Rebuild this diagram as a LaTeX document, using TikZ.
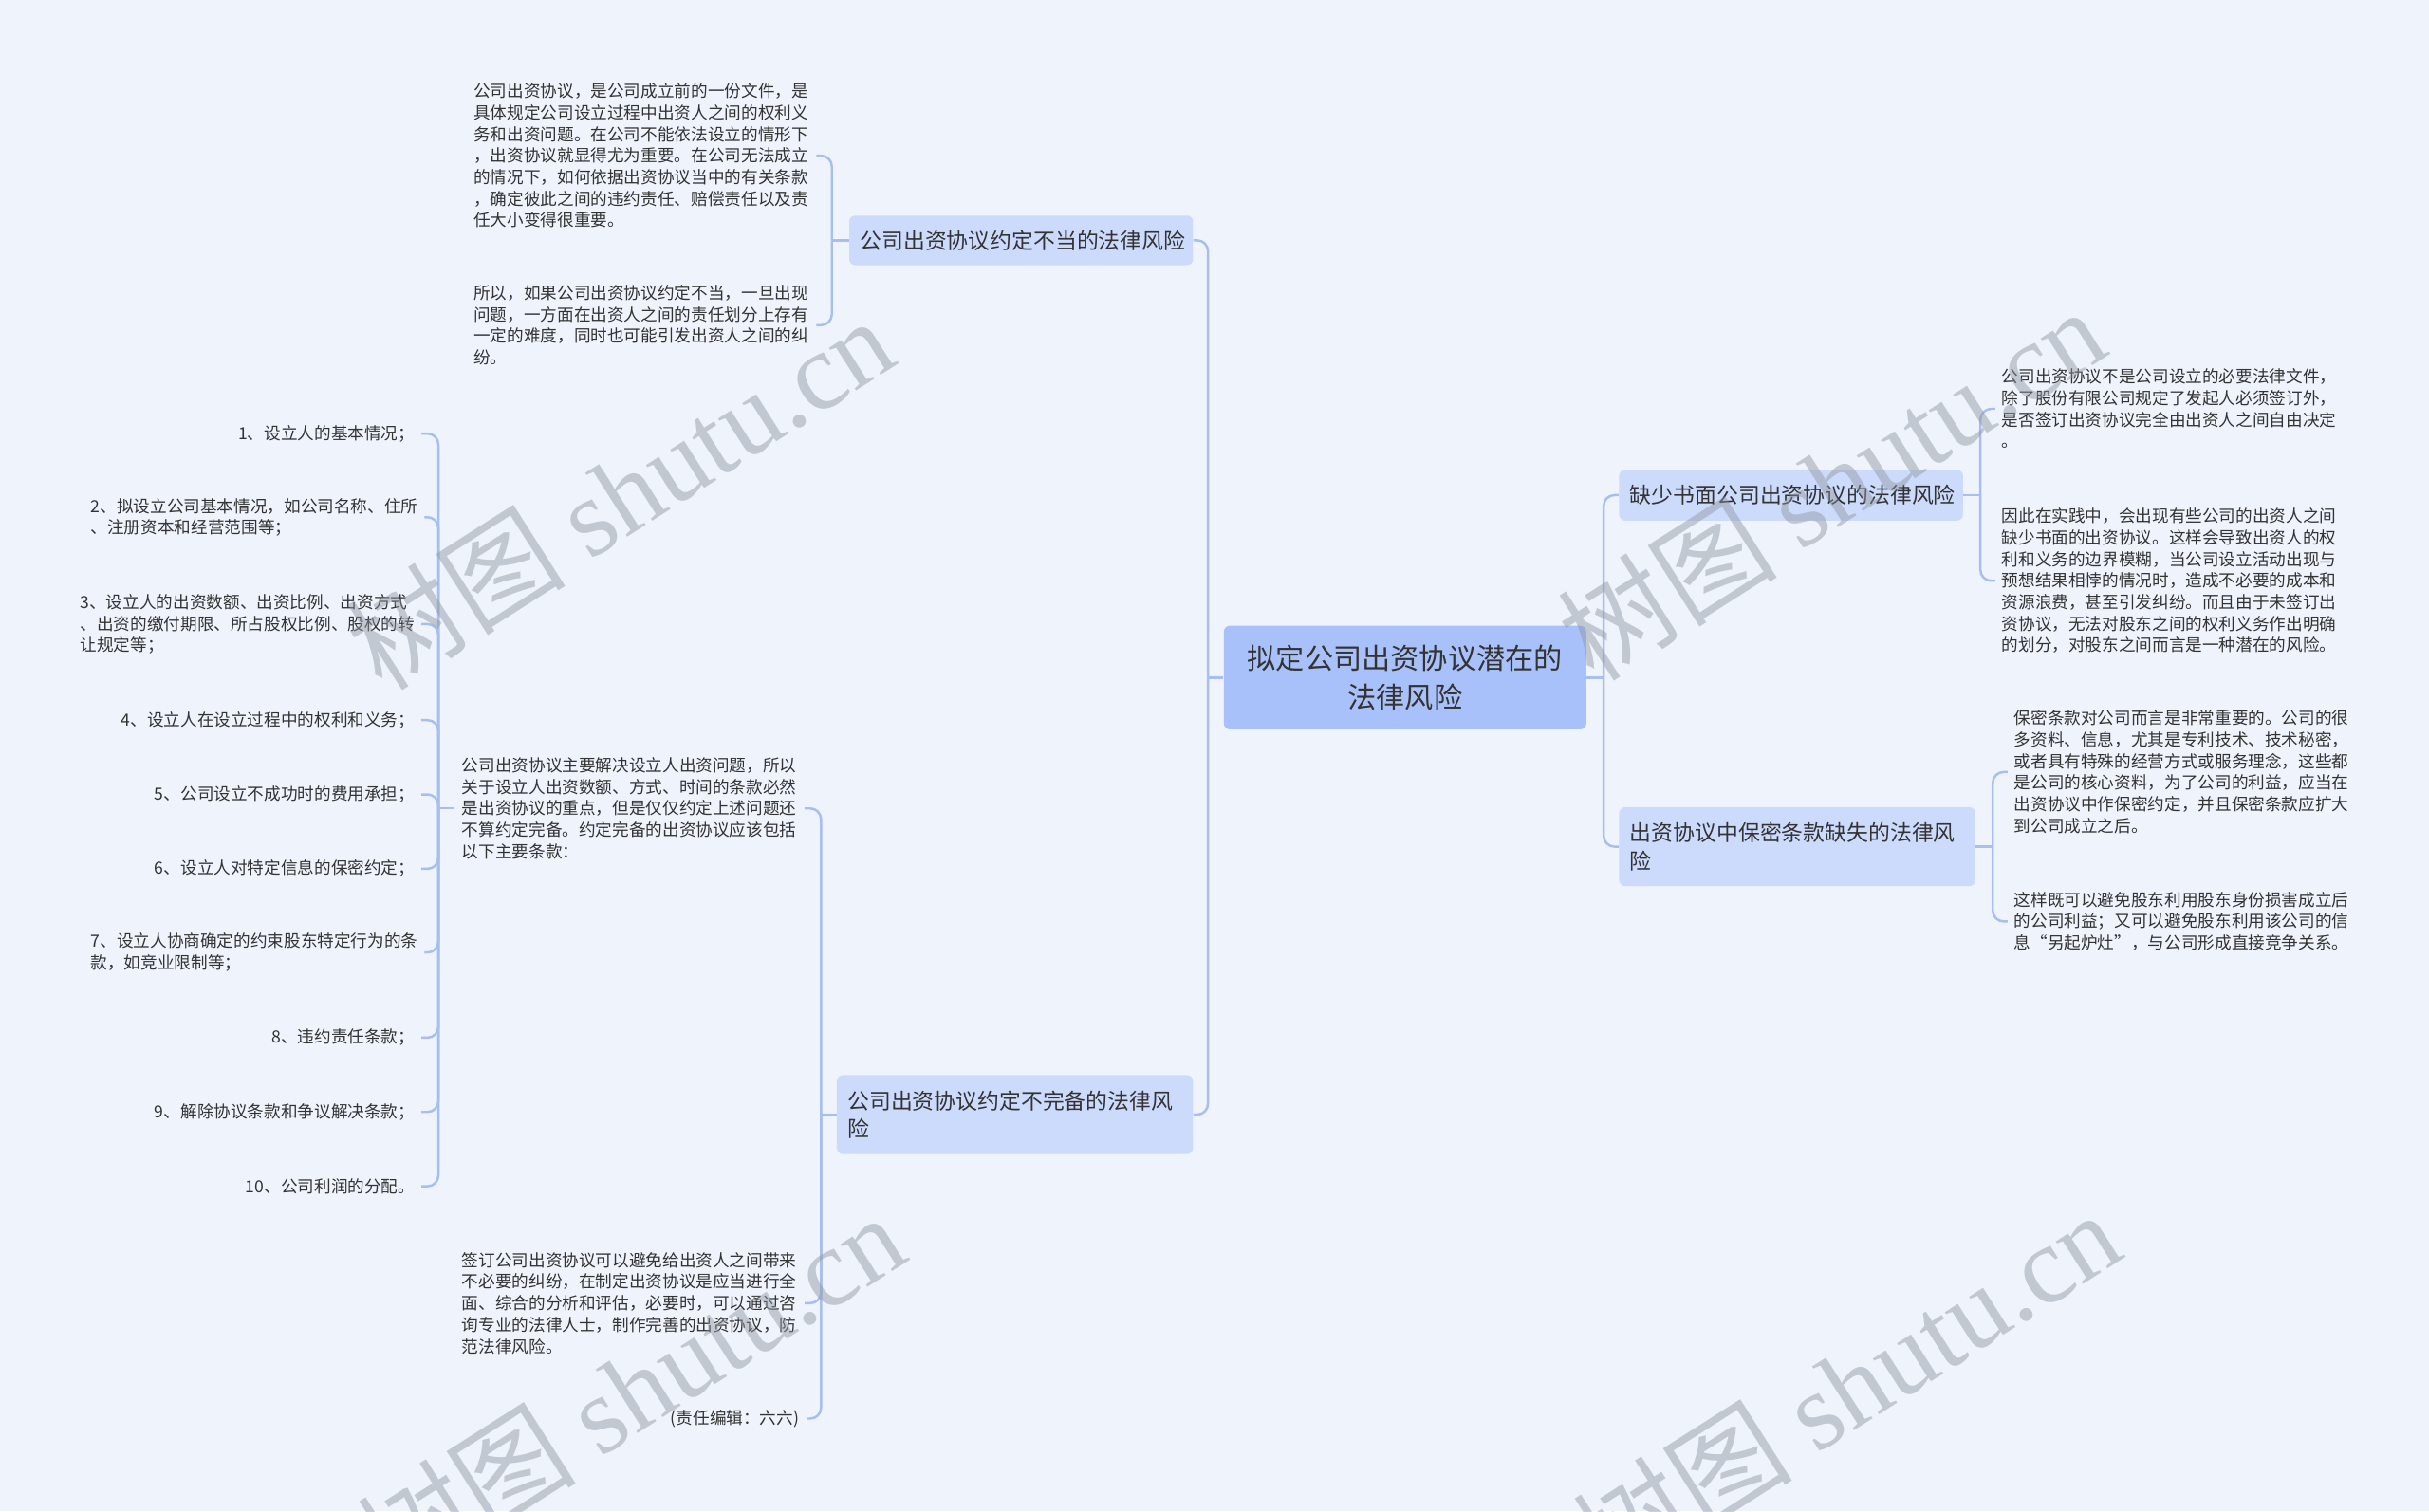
\documentclass[tikz,border=0pt]{standalone}
\usepackage{fontspec}
\setmainfont{Noto Sans CJK SC}
\newfontfamily\wmlatin{Liberation Serif}
\newfontfamily\wmcjk{Noto Sans CJK SC}
\definecolor{bg}{HTML}{EEF3FC}
\definecolor{rootfill}{HTML}{A9C1FA}
\definecolor{subfill}{HTML}{CCDAFC}
\definecolor{linec}{HTML}{A8BEEE}
\definecolor{txt}{HTML}{333333}
\definecolor{wmc}{HTML}{8E949E}
\begin{document}
\begin{tikzpicture}[x=1pt,y=-1pt,
  link/.style={draw=linec, line width=1.5pt, rounded corners=7pt},
  rootbox/.style={rectangle, rounded corners=4pt, fill=rootfill, text=txt,
    font=\fontsize{18.5}{25}\selectfont, align=center,
    minimum width=234pt, minimum height=67pt, inner sep=0pt},
  subbox/.style={rectangle, rounded corners=4pt, fill=subfill, text=txt,
    font=\fontsize{14}{18}\selectfont, align=left, inner xsep=7pt, inner ysep=0pt,
    anchor=north west},
  leaf/.style={inner xsep=4pt, inner ysep=0pt, align=left, text=txt,
    font=\fontsize{10.8}{13.9}\selectfont},
  wm/.style={text=wmc, text opacity=0.45, inner sep=0pt,
    font=\fontsize{71}{71}\selectfont}
]
\useasboundingbox (0,0) rectangle (1568,976);
\fill[bg] (0,0) rectangle (1568,976);

% root
\node[rootbox] (root) at (907,437.5) {拟定公司出资协议潜在的\\法律风险};

% subtopics
\node[subbox, text width=208pt, minimum height=32pt] (sL1) at (548,139) {公司出资协议约定不当的法律风险};
\node[subbox, text width=216pt, minimum height=51pt] (sL2) at (540,694) {公司出资协议约定不完备的法律风\\险};
\node[subbox, text width=208pt, minimum height=33pt] (sR1) at (1045,303) {缺少书面公司出资协议的法律风险};
\node[subbox, text width=216pt, minimum height=51pt] (sR2) at (1045,521) {出资协议中保密条款缺失的法律风\\险};

% leaves of sL1
\node[leaf, inner xsep=5pt, anchor=east] (l1a) at (527,100.5) {公司出资协议，是公司成立前的一份文件，是\\具体规定公司设立过程中出资人之间的权利义\\务和出资问题。在公司不能依法设立的情形下\\，出资协议就显得尤为重要。在公司无法成立\\的情况下，如何依据出资协议当中的有关条款\\，确定彼此之间的违约责任、赔偿责任以及责\\任大小变得很重要。};
\node[leaf, inner xsep=5pt, anchor=east] (l1b) at (527,210) {所以，如果公司出资协议约定不当，一旦出现\\问题，一方面在出资人之间的责任划分上存有\\一定的难度，同时也可能引发出资人之间的纠\\纷。};

% leaves of sL2
\node[leaf, inner xsep=5pt, anchor=west] (l2a) at (293,522) {公司出资协议主要解决设立人出资问题，所以\\关于设立人出资数额、方式、时间的条款必然\\是出资协议的重点，但是仅仅约定上述问题还\\不算约定完备。约定完备的出资协议应该包括\\以下主要条款：};
\node[leaf, inner xsep=5pt, anchor=west] (l2b) at (293,841.5) {签订公司出资协议可以避免给出资人之间带来\\不必要的纠纷，在制定出资协议是应当进行全\\面、综合的分析和评估，必要时，可以通过咨\\询专业的法律人士，制作完善的出资协议，防\\范法律风险。};
\node[leaf, inner xsep=5pt, anchor=east] (l2c) at (521,916) {(责任编辑：六六)};

% items of l2a
\node[leaf, anchor=east] (i1) at (272,280) {1、设立人的基本情况；};
\node[leaf, anchor=east] (i2) at (274,334) {2、拟设立公司基本情况，如公司名称、住所\\、注册资本和经营范围等；};
\node[leaf, anchor=east] (i3) at (272,403) {3、设立人的出资数额、出资比例、出资方式\\、出资的缴付期限、所占股权比例、股权的转\\让规定等；};
\node[leaf, anchor=east] (i4) at (272,465) {4、设立人在设立过程中的权利和义务；};
\node[leaf, anchor=east] (i5) at (272,513) {5、公司设立不成功时的费用承担；};
\node[leaf, anchor=east] (i6) at (272,561) {6、设立人对特定信息的保密约定；};
\node[leaf, anchor=east] (i7) at (274,615) {7、设立人协商确定的约束股东特定行为的条\\款，如竞业限制等；};
\node[leaf, anchor=east] (i8) at (272,670) {8、违约责任条款；};
\node[leaf, anchor=east] (i9) at (272,718) {9、解除协议条款和争议解决条款；};
\node[leaf, anchor=east] (i10) at (272,766) {10、公司利润的分配。};

% leaves of sR1
\node[leaf, anchor=west] (r1a) at (1288,264) {公司出资协议不是公司设立的必要法律文件，\\除了股份有限公司规定了发起人必须签订外，\\是否签订出资协议完全由出资人之间自由决定\\。};
\node[leaf, anchor=west] (r1b) at (1288,375) {因此在实践中，会出现有些公司的出资人之间\\缺少书面的出资协议。这样会导致出资人的权\\利和义务的边界模糊，当公司设立活动出现与\\预想结果相悖的情况时，造成不必要的成本和\\资源浪费，甚至引发纠纷。而且由于未签订出\\资协议，无法对股东之间的权利义务作出明确\\的划分，对股东之间而言是一种潜在的风险。};

% leaves of sR2
\node[leaf, anchor=west] (r2a) at (1296,498.5) {保密条款对公司而言是非常重要的。公司的很\\多资料、信息，尤其是专利技术、技术秘密，\\或者具有特殊的经营方式或服务理念，这些都\\是公司的核心资料，为了公司的利益，应当在\\出资协议中作保密约定，并且保密条款应扩大\\到公司成立之后。};
\node[leaf, anchor=west] (r2b) at (1296,595) {这样既可以避免股东利用股东身份损害成立后\\的公司利益；又可以避免股东利用该公司的信\\息“另起炉灶”，与公司形成直接竞争关系。};

% connectors: root
\draw[link] (root.west) -- ++(-10,0) coordinate (jL);
\draw[link] (jL) |- (sL1.east);
\draw[link] (jL) |- (sL2.east);
\draw[link] (root.east) -- ++(11,0) coordinate (jR);
\draw[link] (jR) |- (sR1.west);
\draw[link] (jR) |- (sR2.west);

% sL1
\draw[link] (sL1.west) -- ++(-11,0) coordinate (j1);
\draw[link] (j1) |- (l1a.east);
\draw[link] (j1) |- (l1b.east);

% sL2
\draw[link] (sL2.west) -- ++(-10,0) coordinate (j2);
\draw[link] (j2) |- (l2a.east);
\draw[link] (j2) |- (l2b.east);
\draw[link] (j2) |- (l2c.east);

% l2a items
\draw[link] (l2a.west) -- ++(-10,0) coordinate (j3);
\foreach \n in {i1,i2,i3,i4,i5,i6,i7,i8,i9,i10}{
  \draw[link] (j3) |- (\n.east);
}

% sR1
\draw[link] (sR1.east) -- ++(11,0) coordinate (j4);
\draw[link] (j4) |- (r1a.west);
\draw[link] (j4) |- (r1b.west);

% sR2
\draw[link] (sR2.east) -- ++(11,0) coordinate (j5);
\draw[link] (j5) |- (r2a.west);
\draw[link] (j5) |- (r2b.west);

% watermarks
\node[wm, rotate=32.5] (wm1) at (400,318) {{\wmcjk 树图} {\wmlatin shutu.cn}};
\node[wm, rotate=32.5] (wm2) at (1182,312) {{\wmcjk 树图} {\wmlatin shutu.cn}};
\node[wm, rotate=32.5] (wm3) at (407,897) {{\wmcjk 树图} {\wmlatin shutu.cn}};
\node[wm, rotate=32.5] (wm4) at (1192,895) {{\wmcjk 树图} {\wmlatin shutu.cn}};
\end{tikzpicture}
\end{document}
